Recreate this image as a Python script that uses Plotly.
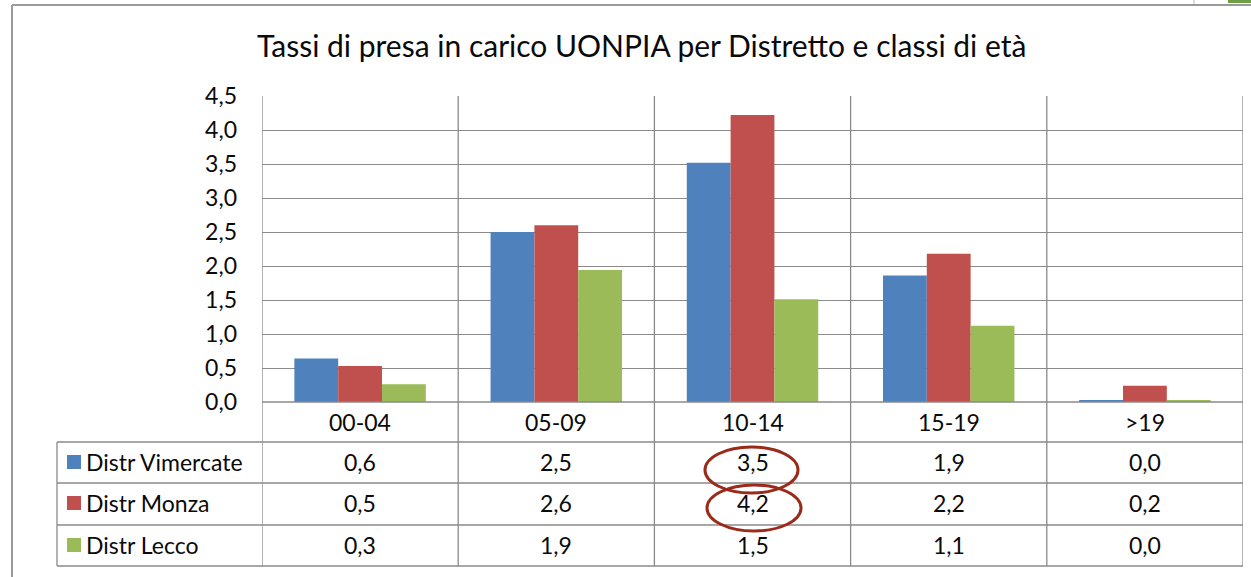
import plotly.graph_objects as go

# ---------------- data ----------------
categories = ["00-04", "05-09", "10-14", "15-19", ">19"]
series_names = ["Distr Vimercate", "Distr Monza", "Distr Lecco"]
vimercate = [0.64, 2.50, 3.52, 1.86, 0.03]
monza = [0.53, 2.60, 4.22, 2.18, 0.24]
lecco = [0.26, 1.94, 1.51, 1.12, 0.03]
y_ticks = [0.0, 0.5, 1.0, 1.5, 2.0, 2.5, 3.0, 3.5, 4.0, 4.5]
title_text = "Tassi di presa in carico UONPIA per Distretto e classi di età"

series_values = [vimercate, monza, lecco]
colors = ["#4F81BD", "#C0504D", "#9BBB59"]

# ---------------- geometry (pixels) ----------------
W, H = 1251, 577
PL, PR, PT, PB = 262, 1243, 96, 402   # plot area
GRID = "#8A8A8A"
FONT = "Lato"
TXT = "#0A0A0A"
FS = 23


def xp(px):
    return (px - PL) / (PR - PL)


def yp(py):
    return (PB - py) / (PB - PT)


fig = go.Figure()
for name, vals, col in zip(series_names, series_values, colors):
    fig.add_trace(go.Bar(x=categories, y=vals, name=name,
                         marker=dict(color=col, line=dict(width=0))))

shapes = []
annotations = []

# outer frame
shapes.append(dict(type="line", xref="paper", yref="paper", x0=xp(12), x1=xp(1251),
                   y0=yp(5), y1=yp(5), line=dict(color="#9A9A9A", width=2)))
shapes.append(dict(type="line", xref="paper", yref="paper", x0=xp(12), x1=xp(12),
                   y0=yp(5), y1=yp(577), line=dict(color="#9A9A9A", width=2)))
shapes.append(dict(type="line", xref="paper", yref="paper", x0=xp(1194), x1=xp(1194),
                   y0=yp(0), y1=yp(4), line=dict(color="#BBBBBB", width=1)))
shapes.append(dict(type="rect", xref="paper", yref="paper", x0=xp(1228), x1=xp(1251),
                   y0=yp(0), y1=yp(3), line=dict(width=0), fillcolor="#6E9E45"))

# vertical category separators through chart + table
n = len(categories)
for i in range(n + 1):
    shapes.append(dict(type="line", xref="x", yref="paper", x0=i - 0.5, x1=i - 0.5,
                       y0=yp(PT), y1=yp(566), line=dict(color=GRID, width=1.3)))

# table horizontal lines
for py in [442, 483, 525, 566]:
    shapes.append(dict(type="line", xref="paper", yref="paper", x0=xp(57), x1=xp(PR),
                       y0=yp(py), y1=yp(py), line=dict(color=GRID, width=1.3)))
shapes.append(dict(type="line", xref="paper", yref="paper", x0=xp(57), x1=xp(57),
                   y0=yp(442), y1=yp(566), line=dict(color=GRID, width=1.3)))
shapes.append(dict(type="line", xref="paper", yref="paper", x0=xp(PL), x1=xp(PR),
                   y0=yp(PB), y1=yp(PB), line=dict(color=GRID, width=1.3)))

# category header row
for c in categories:
    annotations.append(dict(x=c, y=yp(422), xref="x", yref="paper", text=c,
                            xanchor="center", yanchor="middle",
                            showarrow=False, font=dict(family=FONT, size=FS, color=TXT)))

# table rows
row_centers = [462, 503, 545]
for name, vals, col, rc in zip(series_names, series_values, colors, row_centers):
    shapes.append(dict(type="rect", xref="paper", yref="paper", x0=xp(67), x1=xp(81),
                       y0=yp(rc + 7), y1=yp(rc - 7), line=dict(width=0), fillcolor=col))
    annotations.append(dict(x=xp(84), y=yp(rc), xref="paper", yref="paper", text=name,
                            xanchor="left", yanchor="middle", showarrow=False,
                            font=dict(family=FONT, size=FS, color=TXT)))
    for c, v in zip(categories, vals):
        annotations.append(dict(x=c, y=yp(rc), xref="x", yref="paper",
                                text=f"{v:.1f}".replace(".", ","), showarrow=False,
                                xanchor="center", yanchor="middle",
                                font=dict(family=FONT, size=FS, color=TXT)))

# title
annotations.append(dict(x=xp(641), y=yp(45), xref="paper", yref="paper", text=title_text,
                        xanchor="center", yanchor="middle",
                        showarrow=False, font=dict(family=FONT, size=30, color=TXT)))

# highlight ellipses
shapes.append(dict(type="circle", xref="paper", yref="paper", x0=xp(705), x1=xp(798),
                   y0=yp(447), y1=yp(493), line=dict(color="#9A2A1A", width=3)))
shapes.append(dict(type="circle", xref="paper", yref="paper", x0=xp(707), x1=xp(801),
                   y0=yp(485), y1=yp(531), line=dict(color="#9A2A1A", width=3)))

fig.update_layout(
    width=W, height=H, autosize=False,
    margin=dict(l=PL, r=W - PR, t=PT, b=H - PB, pad=0),
    paper_bgcolor="white", plot_bgcolor="white",
    barmode="group", bargap=0.33, bargroupgap=0,
    showlegend=False,
    separators=",.",
    shapes=shapes, annotations=annotations,
    xaxis=dict(type="category", range=[-0.5, n - 0.5], showticklabels=False,
               showgrid=False, zeroline=False, showline=False, fixedrange=True),
    yaxis=dict(range=[0, 4.5], tickvals=y_ticks, tickformat=".1f", showgrid=True,
               gridcolor=GRID, gridwidth=1.3, zeroline=False, showline=False,
               ticks="", ticklabelstandoff=24,
               tickfont=dict(family=FONT, size=FS, color=TXT), fixedrange=True),
)

fig.write_html("out.html", config={"displayModeBar": False},
               post_script="document.body.style.margin='0';document.body.style.padding='0';")
